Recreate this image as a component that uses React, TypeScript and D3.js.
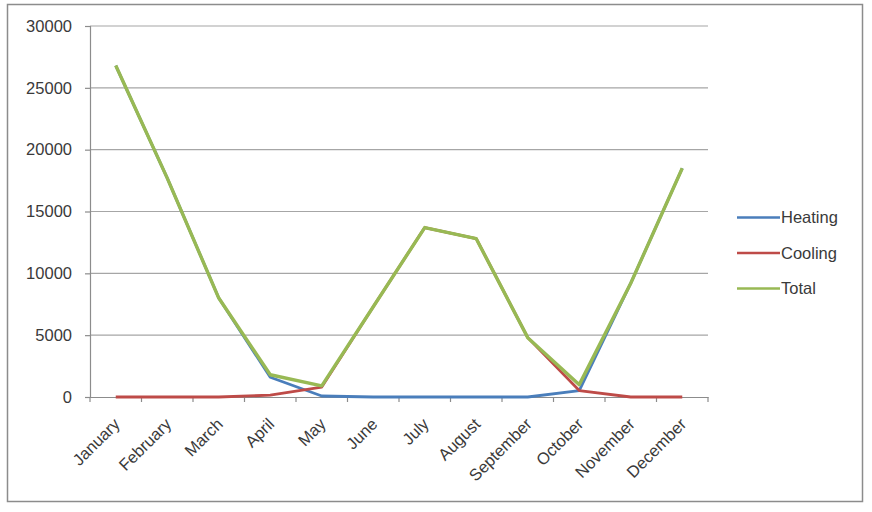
import React, { useEffect, useRef } from 'react';
import * as d3 from 'd3';

const months = [
  'January', 'February', 'March', 'April', 'May', 'June',
  'July', 'August', 'September', 'October', 'November', 'December',
];
const heating = [26800, 17700, 8000, 1600, 80, 0, 0, 0, 0, 520, 9200, 18500];
const cooling = [0, 0, 0, 150, 800, 7300, 13700, 12800, 4800, 520, 0, 0];
const total = [26800, 17700, 8000, 1800, 900, 7300, 13700, 12800, 4800, 1000, 9200, 18500];
const yTicks = [0, 5000, 10000, 15000, 20000, 25000, 30000];

const seriesList = [
  { name: 'Heating', values: heating, color: '#4a7ebb', width: 2.8 },
  { name: 'Cooling', values: cooling, color: '#be4b48', width: 2.8 },
  { name: 'Total', values: total, color: '#98b954', width: 3.4 },
];

const W = 872;
const H = 512;
const FONT = '"Liberation Sans", Arial, sans-serif';

const LineChart: React.FC = () => {
  const svgRef = useRef<SVGSVGElement>(null);

  useEffect(() => {
    if (!svgRef.current) return;
    const svg = d3.select(svgRef.current);
    svg.selectAll('*').remove();

    const plot = { left: 90, right: 708, top: 26, bottom: 397 };

    // outer frame
    svg.append('rect')
      .attr('x', 7.5).attr('y', 4.5)
      .attr('width', 855).attr('height', 497)
      .attr('fill', '#fff')
      .attr('stroke', '#8c8c8c')
      .attr('stroke-width', 1.5);

    const x = d3.scaleBand<string>()
      .domain(months)
      .range([plot.left, plot.right]);

    const y = d3.scaleLinear()
      .domain([0, 30000])
      .range([plot.bottom, plot.top]);

    const cx = (i: number) => (x(months[i]) || 0) + x.bandwidth() / 2;

    // gridlines
    svg.append('g')
      .selectAll('line')
      .data(yTicks.filter(d => d > 0))
      .enter()
      .append('line')
      .attr('x1', plot.left).attr('x2', plot.right)
      .attr('y1', d => y(d)).attr('y2', d => y(d))
      .attr('stroke', '#a6a6a6')
      .attr('stroke-width', 1.2);

    // y axis
    const yAxis = svg.append('g')
      .attr('transform', `translate(${plot.left},0)`)
      .call(d3.axisLeft(y).tickValues(yTicks).tickSize(5).tickPadding(13).tickFormat(d => String(d)));
    yAxis.select('.domain').attr('stroke', '#8c8c8c').attr('stroke-width', 1.2);
    yAxis.selectAll('.tick line').attr('stroke', '#8c8c8c').attr('stroke-width', 1.2);
    yAxis.selectAll('.tick text')
      .attr('font-family', FONT)
      .attr('font-size', 16.5)
      .attr('fill', '#3a3a3a');

    // x axis
    const xAxis = svg.append('g')
      .attr('transform', `translate(0,${plot.bottom})`)
      .call(d3.axisBottom(x).tickSize(0).tickSizeOuter(0).tickFormat(() => ''));
    xAxis.select('.domain').attr('stroke', '#8c8c8c').attr('stroke-width', 1.2);

    const boundaries = d3.range(months.length + 1).map(i => plot.left + i * x.bandwidth());
    xAxis.selectAll('.bt')
      .data(boundaries)
      .enter()
      .append('line')
      .attr('class', 'bt')
      .attr('x1', d => d).attr('x2', d => d)
      .attr('y1', 0).attr('y2', 5)
      .attr('stroke', '#8c8c8c')
      .attr('stroke-width', 1.2);

    svg.append('g')
      .selectAll('text')
      .data(months)
      .enter()
      .append('text')
      .attr('transform', (d, i) => `translate(${cx(i) - 3},${plot.bottom + 20}) rotate(-45)`)
      .attr('text-anchor', 'end')
      .attr('dy', '0.7em')
      .attr('font-family', FONT)
      .attr('font-size', 16.5)
      .attr('fill', '#3a3a3a')
      .text(d => d);

    // series lines
    const line = d3.line<number>()
      .x((d, i) => cx(i))
      .y(d => y(d));

    seriesList.forEach(s => {
      svg.append('path')
        .datum(s.values)
        .attr('fill', 'none')
        .attr('stroke', s.color)
        .attr('stroke-width', s.width)
        .attr('stroke-linejoin', 'round')
        .attr('d', line);
    });

    // legend
    const legend = svg.append('g');
    seriesList.forEach((s, i) => {
      const ly = 217.5 + i * 35.5;
      legend.append('line')
        .attr('x1', 737).attr('x2', 780)
        .attr('y1', ly).attr('y2', ly)
        .attr('stroke', s.color)
        .attr('stroke-width', 2.5);
      legend.append('text')
        .attr('x', 781).attr('y', ly)
        .attr('dy', '0.36em')
        .attr('font-family', FONT)
        .attr('font-size', 16.5)
        .attr('fill', '#3a3a3a')
        .text(s.name);
    });
  }, []);

  return <svg ref={svgRef} width={W} height={H} style={{ display: 'block' }} />;
};

export default function App() {
  return (
    <div style={{ position: 'fixed', left: 0, top: 0, width: W, height: H, background: '#fff' }}>
      <LineChart />
    </div>
  );
}
